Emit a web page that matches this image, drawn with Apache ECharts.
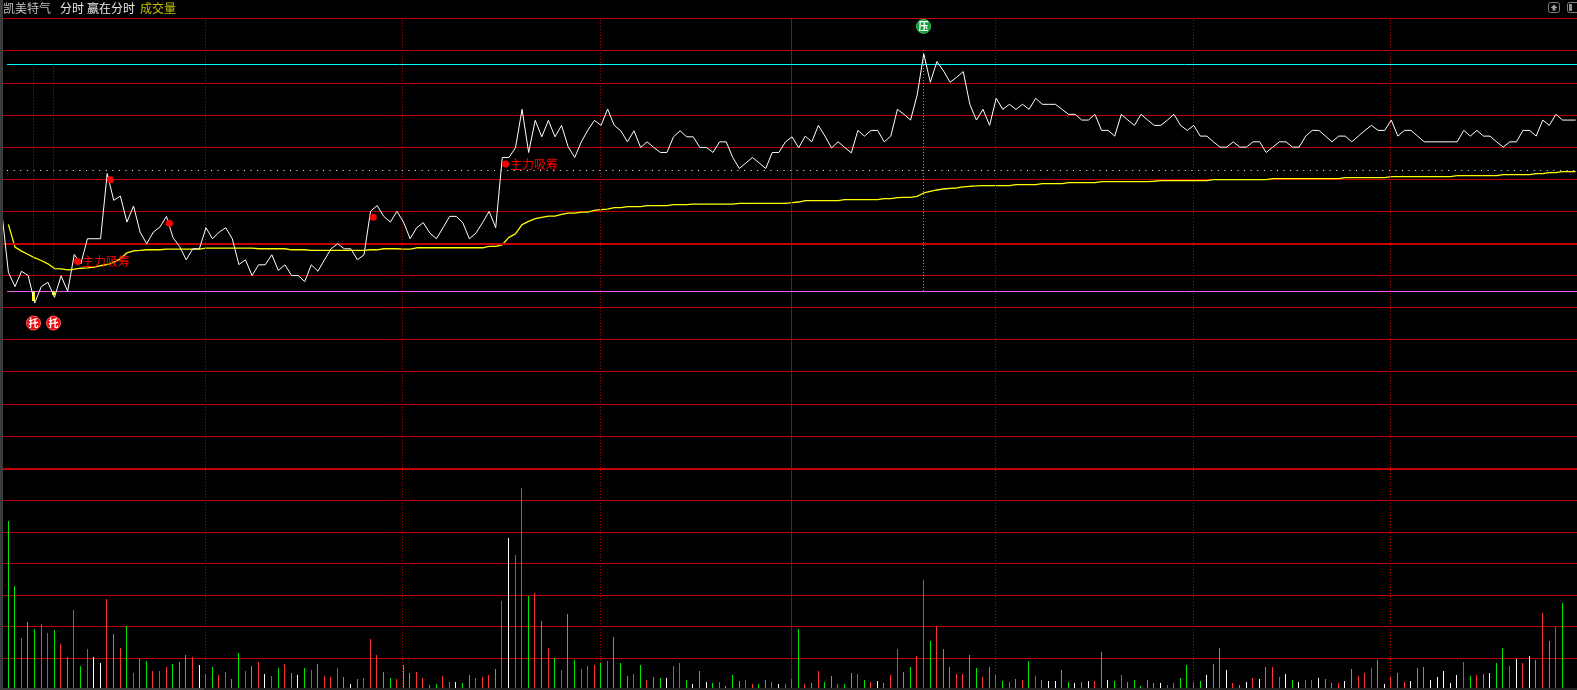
<!DOCTYPE html>
<html>
<head>
<meta charset="utf-8">
<title>凯美特气 分时</title>
<script src="https://cdn.jsdelivr.net/npm/echarts@6/dist/echarts.min.js"></script>
<style>
html,body{margin:0;padding:0;background:#000;overflow:hidden}
#main{width:1577px;height:690px}
</style>
</head>
<body>
<div id="main"></div>
<script>
// price line, starts one minute before the first volume bar
var priceVals = [30.5,-29.2,-43.5,-28.2,-32.5,-59.8,-43.5,-39.2,-54.2,-32.8,-48.2,-11.5,-20.8,4.2,4.2,4.2,69.2,42.5,46.8,20.8,36.8,10.8,-0.8,10.8,15.8,26.5,5.2,-3.5,-16.8,-5.8,-5.8,
  15.2,4.2,10.8,15.2,4.2,-21.5,-16.8,-32.5,-21.8,-21.8,-11.8,-27.5,-21.8,-32.5,-32.5,-38.5,-21.8,-28.2,-16.8,-5.8,-0.8,-5.8,-5.8,-16.8,-11.8,31.8,37.2,26.5,20.8,31.5,
  20.8,4.2,15.2,20.2,9.8,4.2,15.2,26.5,26.5,20.2,4.2,9.8,20.2,31.5,15.2,85.2,85.2,94.8,133.2,90.2,122.2,105.8,122.2,105.8,117.2,95.8,85.2,100.8,112.5,122.2,
  117.2,133.5,117.2,111.8,100.8,111.8,95.2,100.8,95.2,90.2,90.2,105.8,111.8,105.8,105.8,95.2,95.2,90.2,100.8,100.8,85.2,74.2,79.8,85.2,79.8,74.2,90.2,90.2,100.8,105.8,
  94.8,106.5,100.8,117.2,106.5,94.8,100.8,95.2,89.8,112.2,106.5,112.2,112.2,100.8,106.5,133.2,128.2,122.5,147.5,188.5,160.2,180.8,171.5,160.2,165.2,170.8,138.2,122.5,133.2,117.2,
  144.2,133.2,138.2,133.2,138.2,133.2,144.2,138.2,138.2,138.2,133.2,128.2,128.2,122.5,122.5,128.2,112.2,112.2,106.5,128.2,122.5,117.2,128.2,122.5,117.2,117.2,122.5,128.2,117.2,112.2,
  117.2,106.5,106.5,100.8,95.5,95.5,100.8,95.5,95.5,100.8,100.8,90.2,95.5,100.8,100.8,95.5,95.5,106.5,112.2,112.2,106.5,100.8,106.5,106.5,100.8,106.5,112.2,117.2,112.2,112.2,
  122.5,106.5,112.2,112.2,106.5,100.8,100.8,100.8,100.8,100.8,100.8,112.2,106.5,112.2,106.5,106.5,100.8,95.5,100.8,100.8,112.2,112.2,106.5,122.5,117.2,128.2,122.5,122.5,122.5];

// average price line
var avgVals = [18.5,-4.2,-8.2,-11.5,-14.8,-17.5,-20.8,-25.5,-25.8,-26.8,-26.2,-25.2,-24.8,-24.2,-22.5,-21.5,-19.2,-15.8,-9.8,-7.8,-7.5,-6.8,-6.8,-6.8,-6.2,-6.2,-6.2,-6.2,-6.2,-6.2,
  -5.2,-5.2,-5.2,-5.2,-5.2,-5.2,-5.2,-5.2,-5.8,-5.8,-5.8,-5.8,-5.8,-6.8,-6.8,-6.8,-7.5,-7.5,-7.5,-7.5,-7.5,-7.5,-7.5,-7.5,-7.5,-6.8,-6.8,-5.8,-5.8,-5.8,
  -6.2,-6.2,-4.8,-4.8,-4.8,-4.8,-4.8,-4.8,-4.8,-4.8,-4.8,-4.8,-4.8,-3.5,-3.5,-1.8,5.5,9,18.2,21.5,24.2,25.5,26.8,26.8,28.5,29.8,29.8,30.8,30.8,32.5,
  33.2,33.8,35.2,35.2,36.2,36.2,36.2,37.2,37.2,37.2,37.2,38.2,38.2,38.2,38.8,38.8,38.8,38.8,38.8,38.8,38.8,39.5,39.5,39.5,39.5,39.5,39.5,39.5,39.5,40.2,
  40.8,42.2,42.2,42.2,42.2,42.2,42.2,43.2,43.2,43.2,43.2,43.2,43.2,44.2,44.2,45.2,45.5,45.5,46.5,49.8,51.5,52.8,53.8,54.5,54.8,55.8,56.5,56.8,57.2,57.2,
  57.2,57.2,57.2,58.2,58.2,58.2,58.2,59.2,59.2,59.2,59.2,60.2,60.2,60.2,60.2,60.2,61.2,61.2,61.2,61.2,61.2,61.2,61.2,61.2,61.5,62.2,62.2,62.2,62.2,62.2,
  62.2,62.2,62.2,63.2,63.2,63.2,63.2,63.2,63.2,63.2,63.2,63.2,64.2,64.2,64.2,64.2,64.2,64.2,64.2,64.2,64.2,64.2,64.2,65.2,65.2,65.2,65.2,65.2,65.2,65.2,
  66.2,66.2,66.2,66.2,66.2,66.2,66.2,66.2,66.2,66.2,67.2,67.2,67.2,67.2,67.2,67.2,67.2,68.2,68.2,68.2,68.2,68.2,69.2,69.2,70.2,70.2,71.2,71.2,71.2];
var lineOffset = 0.3; // the two line arrays were read against a zero slightly above the axis zero

// volume per minute, and whether that minute traded up (R), down (G) or flat (W)
var volVals = [170,105,52,68,61,66,57,60,46,33,80,24,41,33,27,92,56,42,64,17,31,29,19,19,23,26,28,35,33,25,
  16,23,15,18,11,37,19,24,28,16,14,22,26,17,15,22,20,26,14,13,22,13,6,11,12,51,35,18,12,11,
  25,17,18,12,5,6,14,8,8,7,15,12,13,15,21,90,153,136,204,95,98,69,42,32,20,76,30,21,24,25,
  27,29,53,27,14,16,25,10,13,12,12,24,27,10,6,19,8,7,8,4,15,9,10,6,6,10,8,6,6,11,
  61,6,7,19,8,14,6,6,17,16,10,8,9,7,15,41,18,23,34,111,49,64,41,23,16,16,35,22,13,23,
  15,9,8,11,10,29,14,10,9,9,20,8,7,8,9,9,38,10,9,15,8,10,4,10,7,7,5,7,12,25,
  8,9,15,26,42,20,7,5,8,12,11,23,23,13,16,10,8,10,10,12,11,7,7,9,21,14,17,22,30,6,
  13,17,8,9,22,23,10,13,19,7,15,28,14,15,16,17,27,42,24,31,27,34,30,77,49,63,87];
var volDirs = ('GGRGGRRGRG' + 'RGRWWRGRGR' + 'GGRRRGGGRW' + 'RGRRGGRGRW' + 'RGRGWGRGRR' + 'RGWGRRRGGR' +
  'GGRRGGRRWG' + 'GRRRGRWRRG' + 'RGRGRGGRRR' + 'GRGGGRGRGG' + 'WRRGWGWGRG' + 'GGRRGGRWRR' +
  'GRGRGGRGGR' + 'GRWGRRGGRR' + 'GRGGRRGGRG' + 'RGRGRGRGWW' + 'GGWGWRGWGR' + 'GGGGGWRRGG' +
  'RGWGGWRGWR' + 'WGRRWGWRRW' + 'GGRWGRRRGW' + 'RGRWGGWWWW' + 'WRGRGWGGRW' + 'RWGRGRG').split('');

var timeMarks = [29.93,59.85,89.92,149.9,179.97,209.89];   // half hour marks, dotted
var noonMark = 118.92;                                      // midday break, solid

var highLine = 178.19, lowLine = -48.1, midLine = 72.52, preClose = -0.75;

// 主力吸筹 and plain red signal dots
var signalX = [10.5,15.5,24.45,55.4,75.5];
var signalY = [-18.1,63.2,19.9,25.9,78.9];
var signalText = ['主力吸筹','','','','主力吸筹'];

var tuoX = [3.81,6.85], tuoLow = [-57.6,-51.6], tuoBadgeY = -79.5;
var yaX = 138.97, yaTop = 192.6, yaBadgeY = 216.2;

var colors = {R:'#ff3232', G:'#00e600', W:'#ffffff'};
var gridRed = '#c00000';

function pairs(vals, start){
  return vals.map(function(v,i){ return [i+start, v+lineOffset]; });
}

var tuoLines = [];
tuoX.forEach(function(x){
  tuoLines.push([{coord:[x,highLine]},{coord:[x,lowLine]}]);
});
var tuoBars = [];
tuoX.forEach(function(x,i){
  tuoBars.push([{coord:[x,lowLine]},{coord:[x,tuoLow[i]]}]);
});

function hLine(y,color){
  return [{coord:[-0.2,y],lineStyle:{color:color}},{coord:[238.2,y]}];
}

var vMarks = timeMarks.map(function(x){ return {xAxis:x}; })
  .concat([{xAxis:noonMark,lineStyle:{type:'solid',color:'#a80000'}}]);

function renderVolume(params, api){
  var top = api.coord([api.value(0), api.value(1)]);
  var base = api.coord([api.value(0), 0]);
  var x = Math.floor(top[0]-0.3), y = Math.floor(top[1]);
  return {
    type:'rect',
    shape:{x:x,y:y,width:1,height:base[1]-y},
    style:{fill:colors[volDirs[params.dataIndex]]}
  };
}

var chart = echarts.init(document.getElementById('main'));
chart.setOption({
  backgroundColor:'#000',
  animation:false,
  grid:[
    {left:3,right:0,top:18.55,height:449.4},
    {left:3,right:0,top:468.5,bottom:-2.5}
  ],
  xAxis:[
    {type:'value',gridIndex:0,min:-0.82,max:238.2,show:false},
    {type:'value',gridIndex:1,min:-0.82,max:238.2,show:false}
  ],
  yAxis:[
    {type:'value',gridIndex:0,min:-224,max:224,interval:32,
      axisLine:{show:false},axisTick:{show:false},axisLabel:{show:false},
      splitLine:{show:true,showMinLine:false,lineStyle:{color:gridRed,width:1}}},
    {type:'value',gridIndex:1,min:0,max:224,interval:32,
      axisLine:{show:false},axisTick:{show:false},axisLabel:{show:false},
      splitLine:{show:true,lineStyle:{color:gridRed,width:1}}}
  ],
  series:[
    {name:'refs',type:'line',xAxisIndex:0,yAxisIndex:0,data:[],
      markLine:{silent:true,symbol:'none',label:{show:false},lineStyle:{color:'#c00000',width:1,type:[1,2]},data:vMarks}},
    {name:'preClose',type:'line',xAxisIndex:0,yAxisIndex:0,data:[],
      markLine:{silent:true,symbol:'none',label:{show:false},lineStyle:{width:2,type:'solid',color:'#c80000'},
        data:[{yAxis:preClose}]}},
    {name:'levels',type:'line',xAxisIndex:0,yAxisIndex:0,data:[],
      markLine:{silent:true,symbol:'none',label:{show:false},lineStyle:{width:1,type:'solid'},
        data:[hLine(highLine,'#00ffff'),hLine(lowLine,'#e85ae8'),
          [{coord:[-0.2,midLine],lineStyle:{color:'#ffffff',type:[1,5.58]}},{coord:[238.2,midLine]}]]}},
    {name:'tuo',type:'line',xAxisIndex:0,yAxisIndex:0,data:[],
      markLine:{silent:true,symbol:'none',label:{show:false},lineStyle:{width:1,type:[1,2],color:'#e00000'},data:tuoLines}},
    {name:'ya',type:'line',xAxisIndex:0,yAxisIndex:0,data:[],
      markLine:{silent:true,symbol:'none',label:{show:false},lineStyle:{width:1,type:[1,2],color:'#30e030'},
        data:[[{coord:[yaX,yaTop]},{coord:[yaX,lowLine]}]]}},
    {name:'均价',type:'line',xAxisIndex:0,yAxisIndex:0,showSymbol:false,symbol:'none',z:4,
      lineStyle:{color:'#ffff00',width:1.3},data:pairs(avgVals,0)},
    {name:'分时',type:'line',xAxisIndex:0,yAxisIndex:0,showSymbol:false,symbol:'none',z:5,
      lineStyle:{color:'#ffffff',width:1},data:pairs(priceVals,-1)},
    {name:'tuoBars',type:'line',xAxisIndex:0,yAxisIndex:0,data:[],z:6,
      markLine:{silent:true,symbol:'none',label:{show:false},lineStyle:{width:3,type:'solid',color:'#ffff00'},data:tuoBars}},
    {name:'信号',type:'scatter',xAxisIndex:0,yAxisIndex:0,symbol:'circle',symbolSize:7,z:7,
      itemStyle:{color:'#ff0000',opacity:1},
      label:{show:true,position:'right',distance:1,color:'#ff0000',fontSize:12,fontFamily:'"Noto Sans CJK SC"',
        formatter:function(p){ return signalText[p.dataIndex]; }},
      data:signalX.map(function(x,i){ return [x,signalY[i]]; })},
    {name:'托',type:'scatter',xAxisIndex:0,yAxisIndex:0,symbol:'circle',symbolSize:14,z:7,
      itemStyle:{color:'#e80c0c',borderColor:'#ff5a5a',borderWidth:1,opacity:1},
      label:{show:true,position:'inside',color:'#fff',fontSize:10,fontWeight:'bold',fontFamily:'"Noto Sans CJK SC"',formatter:'托'},
      data:tuoX.map(function(x){ return [x,tuoBadgeY]; })},
    {name:'压',type:'scatter',xAxisIndex:0,yAxisIndex:0,symbol:'circle',symbolSize:14,z:7,
      itemStyle:{color:'#0f9e3a',borderColor:'#3ac060',borderWidth:1,opacity:1},
      label:{show:true,position:'inside',color:'#fff',fontSize:10,fontWeight:'bold',fontFamily:'"Noto Sans CJK SC"',formatter:'压'},
      data:[[yaX,yaBadgeY]]},
    {name:'refsVol',type:'line',xAxisIndex:1,yAxisIndex:1,data:[],
      markLine:{silent:true,symbol:'none',label:{show:false},lineStyle:{color:'#c00000',width:1,type:[1,2]},data:vMarks}},
    {name:'成交量',type:'custom',xAxisIndex:1,yAxisIndex:1,z:5,clip:false,
      renderItem:renderVolume,
      encode:{x:0,y:1},
      data:volVals.map(function(v,i){ return [i,v]; })},
    {name:'volTop',type:'line',xAxisIndex:1,yAxisIndex:1,data:[],
      markLine:{silent:true,symbol:'none',label:{show:false},lineStyle:{width:2,type:'solid',color:'#c80000'},
        data:[{yAxis:223.5}]}}
  ],
  graphic:[
    {type:'rect',shape:{x:0,y:0,width:3,height:690},style:{fill:'#3c3c3c'},z:100,silent:true},
    {type:'rect',shape:{x:3,y:688,width:201,height:2},style:{fill:'#3c3c3c'},z:100,silent:true},
    {type:'rect',shape:{x:204,y:688,width:1373,height:2},style:{fill:'#202020'},z:100,silent:true},
    {type:'text',x:3,y:2,z:100,style:{text:'凯美特气',fill:'#c0c0c0',font:'12px "Noto Sans CJK SC"'}},
    {type:'text',x:60,y:2,z:100,style:{text:'分时',fill:'#e8e8e8',font:'12px "Noto Sans CJK SC"'}},
    {type:'text',x:87,y:2,z:100,style:{text:'赢在分时',fill:'#e8e8e8',font:'12px "Noto Sans CJK SC"'}},
    {type:'text',x:140,y:2,z:100,style:{text:'成交量',fill:'#c0c000',font:'12px "Noto Sans CJK SC"'}},
    {type:'rect',shape:{x:1548.5,y:2.5,width:11,height:10,r:2},style:{fill:'none',stroke:'#808080',lineWidth:1},z:100},
    {type:'polygon',shape:{points:[[1554,4.5],[1557.5,8],[1555.5,8],[1555.5,10.5],[1552.5,10.5],[1552.5,8],[1550.5,8]]},style:{fill:'#a0a0a0'},z:100},
    {type:'rect',shape:{x:1567.5,y:2.5,width:14,height:10,r:2},style:{fill:'none',stroke:'#808080',lineWidth:1},z:100},
    {type:'rect',shape:{x:1569,y:4,width:3,height:7},style:{fill:'#909090'},z:100}
  ]
});
</script>
</body>
</html>
